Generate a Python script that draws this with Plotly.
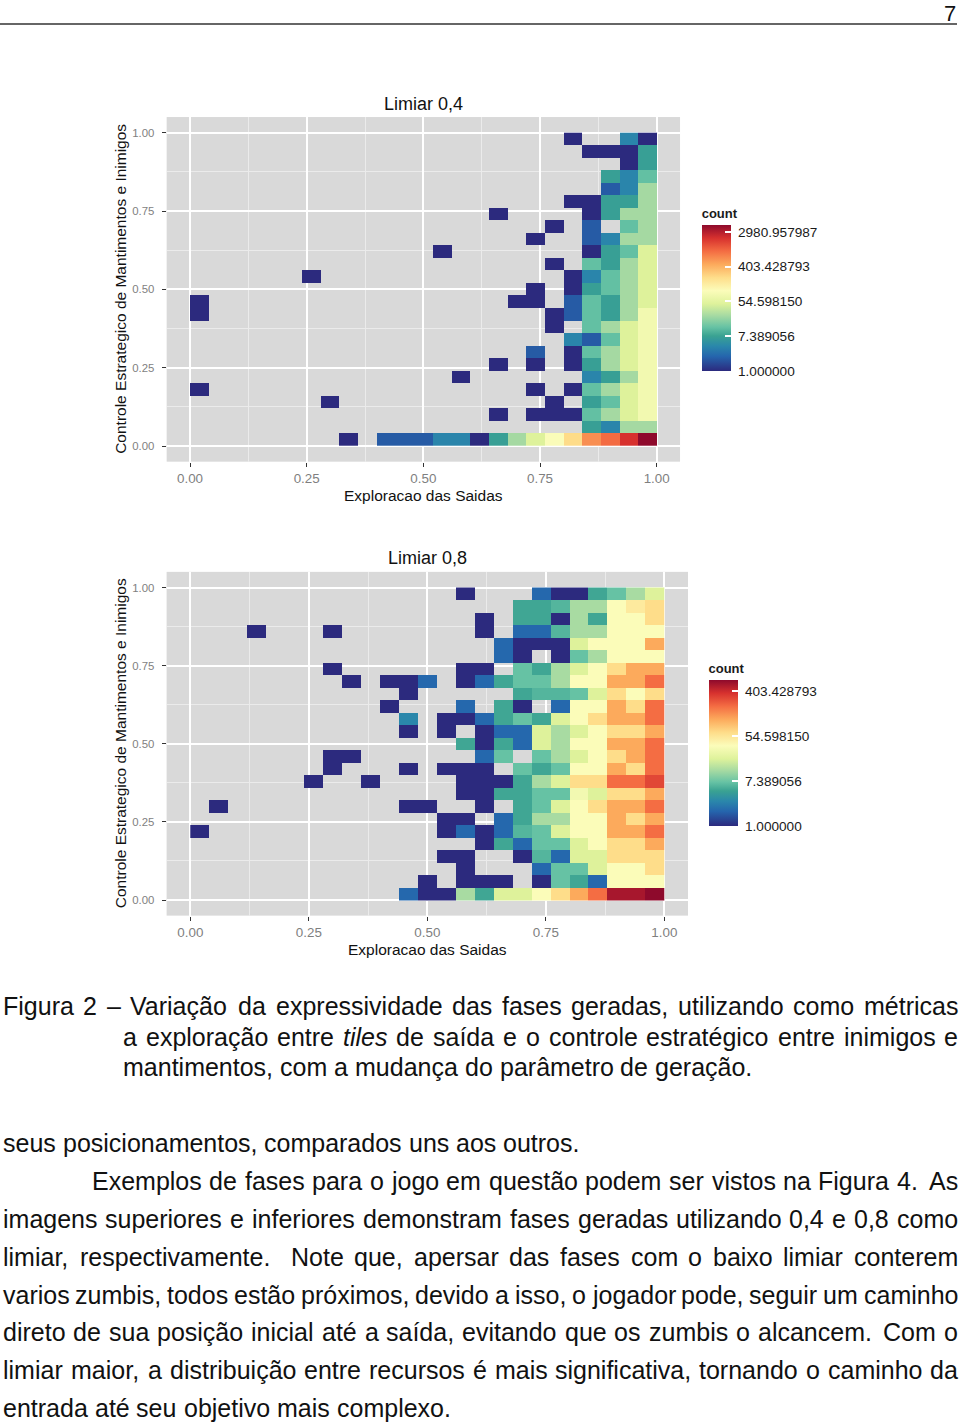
import math
import plotly.graph_objects as go

# ---------------- data ----------------
X_BIN_CENTERS = [0.02, 0.06, 0.10, 0.14, 0.18, 0.22, 0.26, 0.30, 0.34, 0.38, 0.42, 0.46, 0.50,
                 0.54, 0.58, 0.62, 0.66, 0.70, 0.74, 0.78, 0.82, 0.86, 0.90, 0.94, 0.98]
Y_BIN_CENTERS = list(X_BIN_CENTERS)

TOP_TITLE = "Limiar 0,4"
BOTTOM_TITLE = "Limiar 0,8"
X_LABEL = "Exploracao das Saidas"
Y_LABEL = "Controle Estrategico de Mantimentos e Inimigos"

# counts per bin: one dict per row (top row y=0.98 first), {x-bin index: count}
LIMIAR_04 = [
    {20: 1, 23: 4, 24: 1},
    {21: 1, 22: 1, 23: 1, 24: 7},
    {23: 1, 24: 7},
    {22: 7, 23: 4, 24: 12},
    {22: 2, 23: 4, 24: 24},
    {20: 1, 21: 1, 22: 7, 23: 7, 24: 24},
    {16: 1, 21: 1, 22: 7, 23: 24, 24: 24},
    {19: 1, 21: 2, 23: 12, 24: 24},
    {18: 1, 21: 2, 22: 4, 23: 24, 24: 24},
    {13: 1, 21: 1, 22: 7, 23: 12, 24: 48},
    {19: 1, 21: 12, 22: 7, 23: 24, 24: 48},
    {6: 1, 20: 1, 21: 4, 22: 12, 23: 24, 24: 48},
    {18: 1, 20: 1, 21: 7, 22: 12, 23: 24, 24: 48},
    {0: 1, 17: 1, 18: 1, 20: 2, 21: 12, 22: 7, 23: 24, 24: 48},
    {0: 1, 19: 1, 20: 2, 21: 12, 22: 7, 23: 24, 24: 80},
    {19: 1, 21: 12, 22: 24, 23: 48, 24: 80},
    {20: 4, 21: 2, 22: 12, 23: 48, 24: 80},
    {18: 2, 20: 1, 21: 12, 22: 24, 23: 48, 24: 80},
    {16: 1, 18: 1, 20: 1, 21: 7, 22: 24, 23: 48, 24: 80},
    {14: 1, 21: 4, 22: 7, 23: 24, 24: 80},
    {0: 1, 18: 1, 20: 1, 21: 12, 22: 24, 23: 48, 24: 80},
    {7: 1, 19: 1, 21: 7, 22: 12, 23: 48, 24: 80},
    {16: 1, 18: 1, 19: 1, 20: 1, 21: 12, 22: 24, 23: 48, 24: 80},
    {21: 7, 22: 4, 23: 24, 24: 24},
    {8: 1, 10: 2, 11: 2, 12: 2, 13: 4, 14: 4, 15: 1, 16: 7, 17: 24, 18: 48, 19: 100,
     20: 220, 21: 650, 22: 1000, 23: 2100, 24: 4450},
]

LIMIAR_08 = [
    {14: 1, 18: 2, 19: 1, 20: 1, 21: 5, 22: 7, 23: 12, 24: 20},
    {17: 5, 18: 5, 19: 6, 20: 12, 21: 12, 22: 36, 23: 50, 24: 64},
    {15: 1, 17: 5, 18: 5, 19: 1, 20: 12, 21: 5, 22: 36, 23: 36, 24: 64},
    {3: 1, 7: 1, 15: 1, 17: 2, 18: 2, 19: 6, 20: 12, 21: 12, 22: 36, 23: 36, 24: 36},
    {16: 2, 17: 1, 18: 1, 19: 1, 20: 20, 21: 36, 22: 36, 23: 36, 24: 115},
    {16: 2, 17: 1, 19: 1, 20: 7, 21: 12, 22: 36, 23: 36, 24: 36},
    {7: 1, 14: 1, 15: 1, 17: 7, 18: 5, 19: 12, 20: 20, 21: 36, 22: 64, 23: 115, 24: 115},
    {8: 1, 10: 1, 11: 1, 12: 2, 14: 1, 15: 2, 16: 5, 17: 7, 18: 7, 19: 12, 20: 36, 21: 36,
     22: 115, 23: 115, 24: 206},
    {11: 1, 17: 5, 18: 6, 19: 6, 20: 7, 21: 20, 22: 64, 23: 36, 24: 64},
    {10: 1, 14: 2, 16: 5, 17: 1, 19: 2, 20: 36, 21: 36, 22: 115, 23: 64, 24: 206},
    {11: 3, 13: 1, 14: 1, 15: 2, 16: 5, 17: 7, 18: 5, 19: 20, 20: 36, 21: 64, 22: 115,
     23: 115, 24: 206},
    {11: 1, 13: 1, 15: 1, 16: 2, 17: 2, 18: 20, 19: 12, 20: 20, 21: 36, 22: 64, 23: 64, 24: 115},
    {14: 5, 15: 1, 16: 5, 17: 2, 18: 20, 19: 12, 20: 36, 21: 36, 22: 115, 23: 115, 24: 206},
    {7: 1, 8: 1, 15: 2, 16: 7, 18: 7, 19: 12, 20: 20, 21: 36, 22: 64, 23: 115, 24: 206},
    {7: 1, 11: 1, 13: 1, 14: 1, 15: 1, 17: 7, 18: 5, 19: 7, 20: 36, 21: 36, 22: 115, 23: 64,
     24: 206},
    {6: 1, 9: 1, 14: 1, 15: 1, 16: 1, 17: 5, 18: 12, 19: 20, 20: 64, 21: 64, 22: 206, 23: 206,
     24: 300},
    {14: 1, 15: 1, 16: 5, 17: 5, 18: 7, 19: 7, 20: 30, 21: 20, 22: 64, 23: 64, 24: 115},
    {1: 1, 11: 1, 12: 1, 15: 1, 17: 5, 18: 7, 19: 20, 20: 36, 21: 64, 22: 115, 23: 115, 24: 206},
    {13: 1, 14: 1, 16: 2, 17: 5, 18: 12, 19: 12, 20: 36, 21: 36, 22: 115, 23: 64, 24: 115},
    {0: 1, 13: 1, 14: 2, 15: 1, 16: 2, 17: 6, 18: 7, 19: 20, 20: 36, 21: 36, 22: 115, 23: 115,
     24: 206},
    {15: 1, 16: 5, 17: 2, 18: 7, 19: 7, 20: 20, 21: 36, 22: 64, 23: 64, 24: 115},
    {13: 1, 14: 1, 17: 1, 18: 6, 19: 2, 20: 20, 21: 20, 22: 64, 23: 64, 24: 64},
    {14: 1, 18: 2, 19: 7, 20: 7, 21: 20, 22: 36, 23: 36, 24: 64},
    {12: 1, 14: 1, 15: 1, 16: 1, 18: 1, 19: 7, 20: 5, 21: 2, 22: 36, 23: 36, 24: 36},
    {11: 2, 12: 1, 13: 1, 14: 12, 15: 5, 16: 20, 17: 20, 18: 36, 19: 64, 20: 115, 21: 206,
     22: 545, 23: 545, 24: 665},
]

CAPTION_LINES = [
    "Figura 2 – Variação da expressividade das fases geradas, utilizando como métricas",
    "a exploração entre <i>tiles</i> de saída e o controle estratégico entre inimigos e",
    "mantimentos, com a mudança do parâmetro de geração.",
]
BODY_LINES = [
    "seus posicionamentos, comparados uns aos outros.",
    "Exemplos de fases para o jogo em questão podem ser vistos na Figura 4. As",
    "imagens superiores e inferiores demonstram fases geradas utilizando 0,4 e 0,8 como",
    "limiar, respectivamente. Note que, apersar das fases com o baixo limiar conterem",
    "varios zumbis, todos estão próximos, devido a isso, o jogador pode, seguir um caminho",
    "direto de sua posição inicial até a saída, evitando que os zumbis o alcancem. Com o",
    "limiar maior, a distribuição entre recursos é mais significativa, tornando o caminho da",
    "entrada até seu objetivo mais complexo.",
]
PAGE_NUMBER = "7"

# ---------------- styling ----------------
W, H = 960, 1422
FONT = "Liberation Sans"
COLORSCALE = [
    [0.00, "#2c2a7e"], [0.10, "#2565ad"], [0.17, "#2a87ab"], [0.24, "#3aa292"],
    [0.30, "#66c2a4"], [0.38, "#a6daa2"], [0.46, "#def29b"], [0.55, "#fbfcba"],
    [0.64, "#fedd8a"], [0.73, "#fcaa5c"], [0.82, "#f46d43"], [0.91, "#d7312e"],
    [1.00, "#8e0a2c"],
]


def px(xp):
    return xp / W


def py(yp):
    return 1 - yp / H


def log_grid(rows):
    z = []
    for r in reversed(rows):
        z.append([math.log(r[c]) if c in r else None for c in range(len(X_BIN_CENTERS))])
    return z


def max_log(rows):
    return math.log(max(v for r in rows for v in r.values()))


fig = go.Figure()

panels = [
    # rows, title, axis suffix, px of x=0, px/unit x, px of y=0, px/unit y, colorbar, title y, xlabel y
    (LIMIAR_04, TOP_TITLE, "", 190.0, 466.7, 446.0, 313.3,
     dict(x=701.7, yc=288.0), 104.5, 495.0),
    (LIMIAR_08, BOTTOM_TITLE, "2", 190.3, 474.0, 900.0, 312.5,
     dict(x=708.5, yc=743.0), 558.0, 949.0),
]

for rows, title, sfx, x0, sx, y0, sy, cb, title_y, xlab_y in panels:
    zmax = max_log(rows)
    tickvals = [v for v in range(0, 9, 2) if v <= zmax]
    fig.add_trace(go.Heatmap(
        x=X_BIN_CENTERS, y=Y_BIN_CENTERS, z=log_grid(rows),
        zmin=0, zmax=zmax, colorscale=COLORSCALE,
        xaxis="x" + sfx, yaxis="y" + sfx, hoverinfo="skip",
        colorbar=dict(
            x=px(cb["x"]), xanchor="left", xpad=0,
            y=py(cb["yc"]), yanchor="middle", ypad=0,
            lenmode="pixels", len=166, thickness=29, outlinewidth=0,
            tickmode="array", tickvals=tickvals,
            ticktext=["\u00a0%.6f" % math.exp(v) for v in tickvals],
            ticks="inside", ticklen=6, tickcolor="white", tickwidth=1.5,
            tickfont=dict(family=FONT, size=13.6, color="#1a1a1a"),
            title=dict(text="<b>count</b>", side="top",
                       font=dict(family=FONT, size=13, color="#1a1a1a")),
        ),
    ))
    xl, xr = x0 - 0.05 * sx, x0 + 1.05 * sx
    yb, yt = y0 + 0.05 * sy, y0 - 1.05 * sy
    axis_common = dict(
        range=[-0.05, 1.05], tickmode="linear", tick0=0, dtick=0.25, tickformat=".2f",
        ticks="outside", ticklen=4, tickwidth=1, tickcolor="#333333",
        showgrid=True, gridcolor="white", gridwidth=1.6, zeroline=False, showline=False,
        minor=dict(dtick=0.125, tick0=0, showgrid=True, gridcolor="#ebebeb", gridwidth=0.8),
        fixedrange=True,
    )
    fig.update_layout({
        "xaxis" + sfx: dict(domain=[px(xl), px(xr)], anchor="y" + sfx,
                            tickfont=dict(family=FONT, size=13.4, color="#7f7f7f"),
                            **axis_common),
        "yaxis" + sfx: dict(domain=[py(yb), py(yt)], anchor="x" + sfx,
                            ticklabelstandoff=5,
                            tickfont=dict(family=FONT, size=11.4, color="#7f7f7f"),
                            **axis_common),
    })
    fig.add_annotation(text=title, xref="x" + sfx, x=0.5, yref="paper", y=py(title_y),
                       xanchor="center", yanchor="middle", showarrow=False,
                       font=dict(family=FONT, size=18, color="#111111"))
    fig.add_annotation(text=X_LABEL, xref="x" + sfx, x=0.5, yref="paper", y=py(xlab_y),
                       xanchor="center", yanchor="middle", showarrow=False,
                       font=dict(family=FONT, size=15.5, color="#111111"))
    fig.add_annotation(text=Y_LABEL, xref="paper", x=px(120.5), yref="y" + sfx, y=0.5,
                       xanchor="center", yanchor="middle", showarrow=False, textangle=-90,
                       font=dict(family=FONT, size=15.5, color="#111111"))

# ---------------- page text (justified, Helvetica metrics) ----------------
HELV = {' ': 278, ',': 278, '.': 278, '–': 556, '-': 333}
for ch in "abdeghnopqu":
    HELV[ch] = 556
for ch in "ckszxyv":
    HELV[ch] = 500
HELV.update({'f': 278, 'i': 222, 'j': 222, 'l': 222, 'm': 833, 'r': 333, 't': 278, 'w': 722})
HELV.update({'A': 667, 'C': 722, 'E': 667, 'F': 611, 'N': 722, 'V': 667})
for ch in "0123456789":
    HELV[ch] = 556
for ch in "áàâãéêóôõú":
    HELV[ch] = 556
HELV.update({'í': 278, 'ç': 500})

FS = 25


def plain(word):
    return word.replace("<i>", "").replace("</i>", "")


def width(word):
    return sum(HELV.get(ch, 556) for ch in plain(word)) * FS / 1000.0


def place_line(text, x0, x1, yc):
    words = text.split(" ")
    ws = [width(w) for w in words]
    sp = HELV[' '] * FS / 1000.0
    gaps = []
    for w in words[:-1]:
        end = plain(w).endswith(".")
        gaps.append((sp * (1.3 if end else 1.0), 3.0 if end else 1.0))
    extra = 0.0
    if x1 is not None and gaps:
        extra = (x1 - x0 - sum(ws) - sum(g[0] for g in gaps)) / sum(g[1] for g in gaps)
    x = x0
    for i, w in enumerate(words):
        fig.add_annotation(text=w, xref="paper", yref="paper", x=px(x), y=py(yc),
                           xanchor="left", yanchor="middle", showarrow=False, borderpad=0,
                           font=dict(family=FONT, size=FS, color="#111111"))
        if i < len(gaps):
            x += ws[i] + gaps[i][0] + gaps[i][1] * extra


caption_geom = [(2, 957, 1006), (122, 957, 1037), (122, None, 1067)]
body_geom = [(2, None, 1143), (91, 957, 1181), (2, 957, 1219), (2, 957, 1257),
             (2, 957, 1295), (2, 957, 1332), (2, 957, 1370), (2, None, 1408)]
for text, (a, b, c) in zip(CAPTION_LINES, caption_geom):
    place_line(text, a, b, c)
for text, (a, b, c) in zip(BODY_LINES, body_geom):
    place_line(text, a, b, c)

fig.add_annotation(text=PAGE_NUMBER, xref="paper", yref="paper", x=px(957), y=1.0,
                   xanchor="right", yanchor="top", showarrow=False, borderpad=0,
                   font=dict(family=FONT, size=22, color="#111111"))
fig.add_shape(type="line", xref="paper", yref="paper", x0=0, x1=px(957), y0=py(24), y1=py(24),
              line=dict(color="#333333", width=1.3))

fig.update_layout(
    width=W, height=H, autosize=False,
    margin=dict(l=0, r=0, t=0, b=0),
    paper_bgcolor="white", plot_bgcolor="#d9d9d9",
    showlegend=False,
)

fig.write_html("out.html", config={"displayModeBar": False},
               post_script="document.body.style.margin='0';")
